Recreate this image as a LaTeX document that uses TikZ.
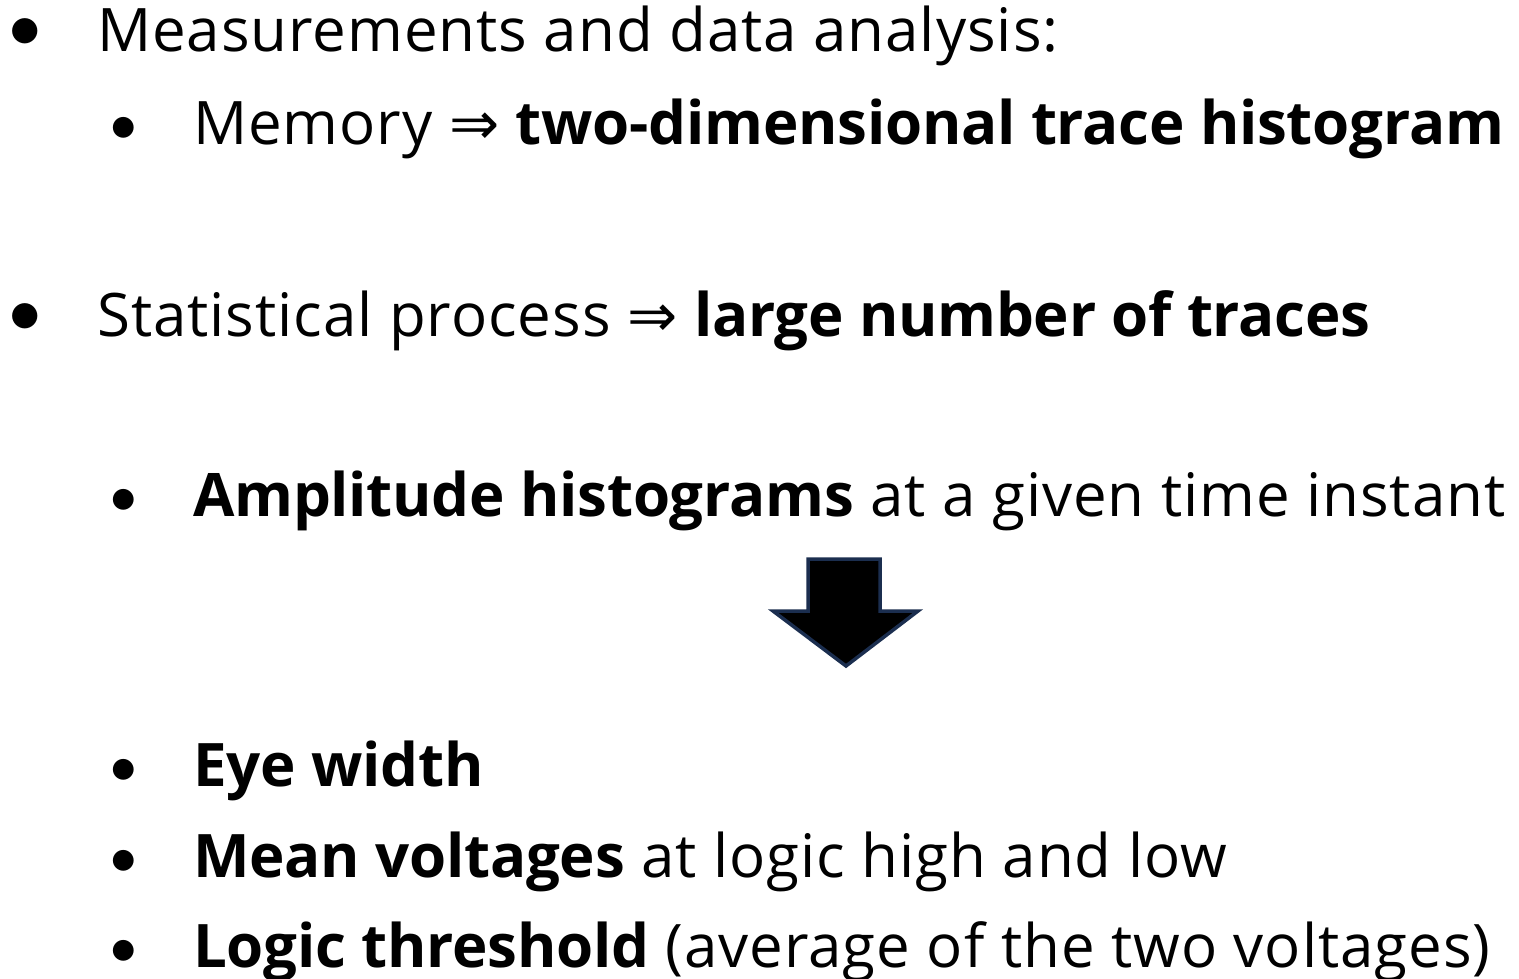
\documentclass[tikz,border=0pt]{standalone}
\usepackage{fontspec}
\setmainfont{Open Sans}[LetterSpace=1.6, BoldFeatures={LetterSpace=-0.4}]
\newfontfamily\arrowfont{DejaVu Sans}
\newfontfamily\dotfont{Lato}
\usetikzlibrary{positioning}
\definecolor{arrowedge}{HTML}{1B2E4F}
\newcommand{\implies}{{\arrowfont ⇒}}
\tikzset{
  itemtext/.style={anchor=base west, inner sep=0pt, font=\fontsize{60}{66}\selectfont},
  bigdot/.style={anchor=base, inner sep=0pt, font=\dotfont\fontsize{68}{70}\selectfont},
  smalldot/.style={anchor=base, inner sep=0pt, font=\dotfont\fontsize{56}{60}\selectfont},
}

\begin{document}
\begin{tikzpicture}[x=1pt, y=-1pt]
  \useasboundingbox (0,0) rectangle (1519,979);
  % top level
  \node[bigdot] (b1) at (25,52) {•};
  \node[itemtext] (t1) at (97,52) {Measurements and data analysis:};
  \node[smalldot] (b2) at (124,145) {•};
  \node[itemtext] (t2) at (193,145) {Memory \implies{} \textbf{two-dimensional trace histogram}};
  \node[bigdot] (b3) at (25,336) {•};
  \node[itemtext] (t3) at (97,336) {Statistical process \implies{} \textbf{large number of traces}};
  \node[smalldot] (b4) at (124,516) {•};
  \node[itemtext] (t4) at (193,516) {\textbf{Amplitude histograms} at a given time instant};
  % block arrow
  \draw[arrowedge, line width=3.5pt, fill=black, line join=miter]
    (808,559) -- (880,559) -- (880,611) -- (918,611) -- (846,666)
    -- (773,611) -- (808,611) -- cycle;
  % results
  \node[smalldot] (b5) at (124,786) {•};
  \node[itemtext] (t5) at (193,786) {\textbf{Eye width}};
  \node[smalldot] (b6) at (124,877) {•};
  \node[itemtext] (t6) at (193,877) {\textbf{Mean voltages} at logic high and low};
  \node[smalldot] (b7) at (124,967) {•};
  \node[itemtext] (t7) at (193,967) {\textbf{Logic threshold} (average of the two voltages)};
\end{tikzpicture}
\end{document}
